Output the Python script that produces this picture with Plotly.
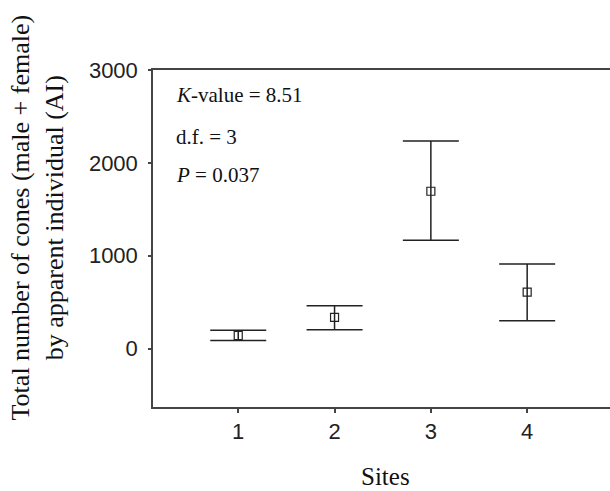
import plotly.graph_objects as go

sites = [1, 2, 3, 4]
means = [140, 335, 1694, 608]
upper = [196, 460, 2234, 909]
lower = [85, 202, 1167, 299]

err_plus = [u - m for u, m in zip(upper, means)]
err_minus = [m - l for m, l in zip(means, lower)]

stats_lines = ["<i>K</i>-value = 8.51", "d.f. = 3", "<i>P</i> = 0.037"]
stats_y = [0.926, 0.801, 0.688]

ink = "#222222"
serif = "Liberation Serif, Times New Roman, serif"
sans = "Liberation Sans, Arial, sans-serif"

fig = go.Figure()
fig.add_trace(go.Scatter(
    x=sites, y=means, mode="markers",
    marker=dict(symbol="square-open", size=8, color=ink, line=dict(width=1.2, color=ink)),
    error_y=dict(type="data", symmetric=False, array=err_plus, arrayminus=err_minus,
                 color=ink, thickness=1.5, width=28),
    showlegend=False,
))

annotations = []
for txt, yy in zip(stats_lines, stats_y):
    annotations.append(dict(text=txt, xref="paper", yref="paper", x=0.046, y=yy,
                            xanchor="left", yanchor="middle", showarrow=False,
                            font=dict(family=serif, size=21, color="#111111")))
annotations.append(dict(text="Total number of cones (male + female)<br>by apparent individual (AI)",
                        xref="paper", yref="paper", x=-0.252, y=0.562, textangle=-90,
                        xanchor="center", yanchor="middle", showarrow=False,
                        font=dict(family=serif, size=26, color="#111111")))
annotations.append(dict(text="Sites", xref="paper", yref="paper", x=0.508, y=-0.205,
                        xanchor="center", yanchor="middle", showarrow=False,
                        font=dict(family=serif, size=25, color="#111111")))
fig.update_layout(annotations=annotations)

fig.update_layout(
    width=610, height=491,
    margin=dict(l=153, r=0, t=70, b=84),
    paper_bgcolor="white", plot_bgcolor="white",
    xaxis=dict(range=[0.115, 4.86], tickvals=sites, ticktext=[str(s) for s in sites],
               showgrid=False, zeroline=False, showline=True, linecolor="#444444", linewidth=1.5,
               mirror=True, ticks="outside", ticklen=4, tickwidth=1.5, tickcolor="#444444",
               tickfont=dict(family=sans, size=22, color=ink), fixedrange=True),
    yaxis=dict(range=[-630, 3000], tickvals=[0, 1000, 2000, 3000],
               showgrid=False, zeroline=False, showline=True, linecolor="#444444", linewidth=1.5,
               ticks="outside", ticklen=3, tickwidth=1.5, tickcolor="#444444",
               tickfont=dict(family=sans, size=22, color=ink), ticklabelstandoff=6),
)

fig.write_html("out.html", config={"displayModeBar": False},
               post_script="document.body.style.margin='0';")
